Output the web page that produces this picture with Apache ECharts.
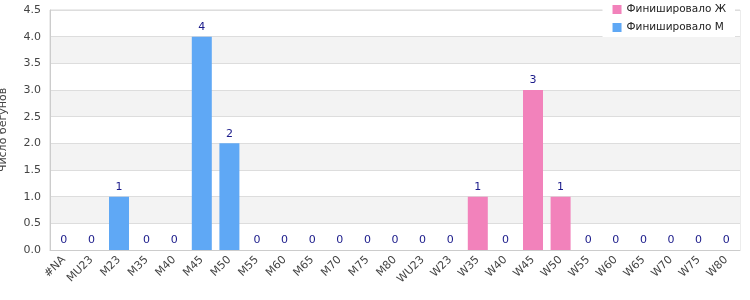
<!DOCTYPE html>
<html><head><meta charset="utf-8">
<script src="https://cdn.jsdelivr.net/npm/echarts@6/dist/echarts.min.js"></script>
<style>html,body{margin:0;padding:0;background:#fff}#c{width:750px;height:300px}</style>
</head><body><div id="c"></div>
<script>
const categories = ['#NA','MU23','M23','M35','M40','M45','M50','M55','M60','M65','M70','M75','M80','WU23','W23','W35','W40','W45','W50','W55','W60','W65','W70','W75','W80'];
const menValues = [0,0,1,0,0,4,2,0,0,0,0,0,0,null,null,null,null,null,null,null,null,null,null,null,null];
const womenValues = [null,null,null,null,null,null,null,null,null,null,null,null,null,0,0,1,0,3,1,0,0,0,0,0,0];
const yTicks = {min:0, max:4.5, interval:0.5};
const seriesNames = ['Финишировало Ж','Финишировало М'];

const font = 'DejaVu Sans';
const chart = echarts.init(document.getElementById('c'), null, {renderer:'canvas'});
const labelCfg = {show:true, position:'top', color:'#1a1a8a', fontFamily:font, fontSize:11, distance:4};
chart.setOption({
  animation:false,
  textStyle:{fontFamily:font},
  grid:{left:50, right:10, top:10, bottom:50, show:true, borderColor:'#d9d9d9', borderWidth:1, backgroundColor:'transparent', containLabel:false, outerBoundsMode:'none'},
  legend:{
    orient:'vertical', right:15, top:0, itemWidth:9, itemHeight:9, itemGap:7,
    backgroundColor:'#fff', padding:[4,9,4,10],
    textStyle:{fontFamily:font, fontSize:10.5, color:'#222'},
    data:[{name:seriesNames[0], icon:'rect'},{name:seriesNames[1], icon:'rect'}]
  },
  xAxis:{
    type:'category', data:categories,
    axisLine:{lineStyle:{color:'#cccccc'}}, axisTick:{show:false},
    axisLabel:{rotate:45, interval:0, color:'#444', fontFamily:font, fontSize:11, margin:8}
  },
  yAxis:{
    type:'value', min:yTicks.min, max:yTicks.max, interval:yTicks.interval,
    name:'Число бегунов', nameLocation:'middle', nameGap:41, nameRotate:90,
    nameTextStyle:{color:'#444', fontFamily:font, fontSize:11},
    axisLine:{show:true, lineStyle:{color:'#cccccc'}}, axisTick:{show:false},
    axisLabel:{color:'#444', fontFamily:font, fontSize:11, margin:9, formatter:v=>v.toFixed(1)},
    splitLine:{lineStyle:{color:'#dddddd'}},
    splitArea:{show:true, areaStyle:{color:['#ffffff','#f3f3f3']}}
  },
  series:[
    {name:seriesNames[0], type:'bar', stack:'s', data:womenValues, barWidth:20, itemStyle:{color:'#f282bb'}, label:labelCfg},
    {name:seriesNames[1], type:'bar', stack:'s', data:menValues, barWidth:20, itemStyle:{color:'#5fa8f5'}, label:labelCfg}
  ]
});
</script></body></html>
